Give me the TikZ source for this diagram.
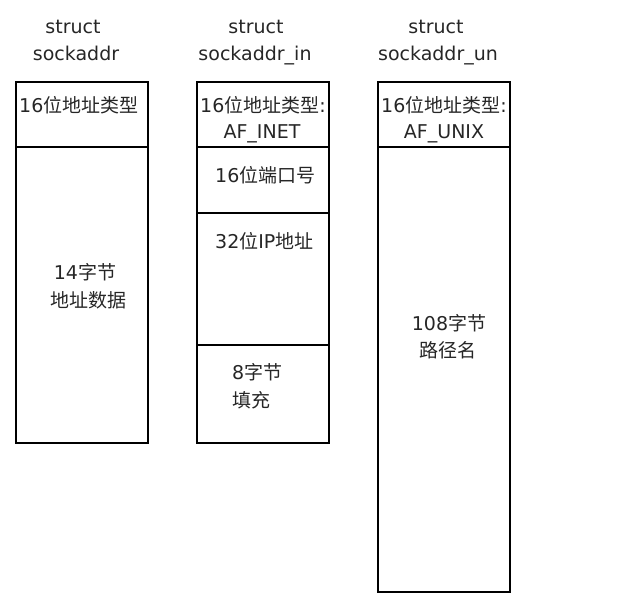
\documentclass[tikz,border=0pt]{standalone}
\usepackage{fontspec}
\setmainfont{DejaVu Sans}
\newfontfamily\cjk{Noto Sans CJK SC}
\newcommand{\zh}[1]{{\cjk #1}}

\tikzset{
  field/.style={draw,line width=2.8pt},
  txt/.style={inner sep=0pt,anchor=base,text=black!85,font=\fontsize{19}{27}\selectfont},
  txtl/.style={txt,anchor=base west},
}

\begin{document}
\begin{tikzpicture}[x=1pt,y=-1pt]
  \useasboundingbox (0,0) rectangle (628,600);
  % struct sockaddr
  \node[txt] (t1a) at (73,33) {struct};
  \node[txt] (t1b) at (76,60) {sockaddr};
  \draw[field] (16,82) rectangle (148,443);
  \draw[field] (16,147) -- (148,147);
  \node[txtl] (a1) at (19,112) {16\zh{位地址类型}};
  \node[txt] (a2) at (85,279) {14\zh{字节}};
  \node[txt] (a3) at (88,307) {\zh{地址数据}};
  % struct sockaddr_in
  \node[txt] (t2a) at (256,33) {struct};
  \node[txt] (t2b) at (255,60) {sockaddr\_in};
  \draw[field] (197,82) rectangle (329,443);
  \draw[field] (197,147) -- (329,147);
  \draw[field] (197,213) -- (329,213);
  \draw[field] (197,345) -- (329,345);
  \node[txt] (b1) at (263,112) {16\zh{位地址类型}:};
  \node[txt] (b2) at (262,138) {AF\_INET};
  \node[txtl] (b3) at (215,182) {16\zh{位端口号}};
  \node[txtl] (b4) at (215,248) {32\zh{位}IP\zh{地址}};
  \node[txtl] (b5) at (232,379) {8\zh{字节}};
  \node[txtl] (b6) at (232,407) {\zh{填充}};
  % struct sockaddr_un
  \node[txt] (t3a) at (436,33) {struct};
  \node[txt] (t3b) at (438,60) {sockaddr\_un};
  \draw[field] (378,82) rectangle (510,592);
  \draw[field] (378,147) -- (510,147);
  \node[txt] (c1) at (444,112) {16\zh{位地址类型}:};
  \node[txt] (c2) at (444,138) {AF\_UNIX};
  \node[txt] (c3) at (449,330) {108\zh{字节}};
  \node[txt] (c4) at (448,357) {\zh{路径名}};
\end{tikzpicture}
\end{document}
